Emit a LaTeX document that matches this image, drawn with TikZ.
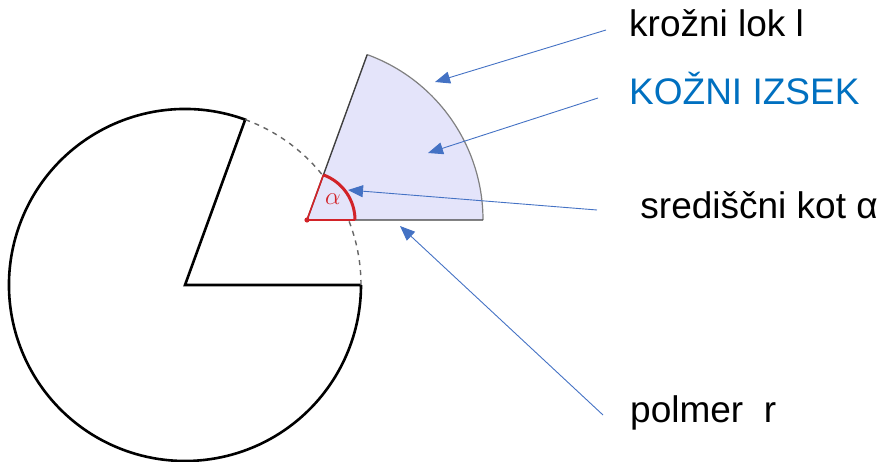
\documentclass[tikz,border=0pt]{standalone}
\usepackage{fontspec}
\setmainfont{Liberation Sans}
\usetikzlibrary{arrows.meta,calc}
\definecolor{arrblue}{RGB}{68,114,196}
\definecolor{txtblue}{RGB}{0,112,192}
\definecolor{lav}{RGB}{228,228,250}
\definecolor{redc}{RGB}{210,35,40}
\begin{document}
\begin{tikzpicture}[x=1pt,y=1pt,
  lbl/.style={anchor=base west,inner sep=0pt,font=\fontsize{37}{44}\selectfont},
  arr/.style={arrblue,line width=0.9pt,-{Triangle[length=15pt,width=12pt]}},
  thickline/.style={line width=2.6pt,black}]
\useasboundingbox (0,0) rectangle (880,461);
% full circle with cut-out sector
\coordinate (C) at (185,176);
\draw[thickline,line join=miter] ($(C)+(0:176)$) -- (C) -- ($(C)+(70:176)$) arc[start angle=70,end angle=360,radius=176];
\draw[gray!80!black,line width=1.4pt,dash pattern=on 5pt off 5pt] ($(C)+(0:176)$) arc[start angle=0,end angle=70,radius=176];
% moved sector
\coordinate (S) at (307,241);
\fill[lav] (S) -- ($(S)+(0:176)$) arc[start angle=0,end angle=70,radius=176] -- cycle;
\draw[gray,line width=1.2pt] ($(S)+(0:176)$) arc[start angle=0,end angle=70,radius=176];
\draw[black!75,line width=1.4pt] ($(S)+(70:176)$) -- (S) -- ($(S)+(0:176)$);
% red angle mark
\draw[redc,line width=1.6pt] ($(S)+(70:48)$) -- (S) -- ($(S)+(0:48)$);
\draw[redc,line width=3pt] ($(S)+(0:48)$) arc[start angle=0,end angle=70,radius=48];
\fill[redc] (S) circle[radius=2.6pt];
\node[redc,font=\fontsize{27}{30}\selectfont] (alpha) at (333,262) {$\alpha$};
% labels
\node[lbl] (lok) at (629,424) {krožni lok l};
\node[lbl,txtblue] (izsek) at (629,356) {KOŽNI IZSEK};
\node[lbl] (kot) at (630,243) {\ središčni kot α};
\node[lbl] (polmer) at (630,39) {polmer\ \ r};
% arrows
\coordinate (a1s) at (606,431); \coordinate (a1t) at (435,379);
\coordinate (a2s) at (598,363); \coordinate (a2t) at (428,308);
\coordinate (a3s) at (597,251); \coordinate (a3t) at (348,271);
\coordinate (a4s) at (603,46);  \coordinate (a4t) at (400,235);
\draw[arr] (a1s) -- (a1t);
\draw[arr] (a2s) -- (a2t);
\draw[arr] (a3s) -- (a3t);
\draw[arr] (a4s) -- (a4t);
\end{tikzpicture}
\end{document}
